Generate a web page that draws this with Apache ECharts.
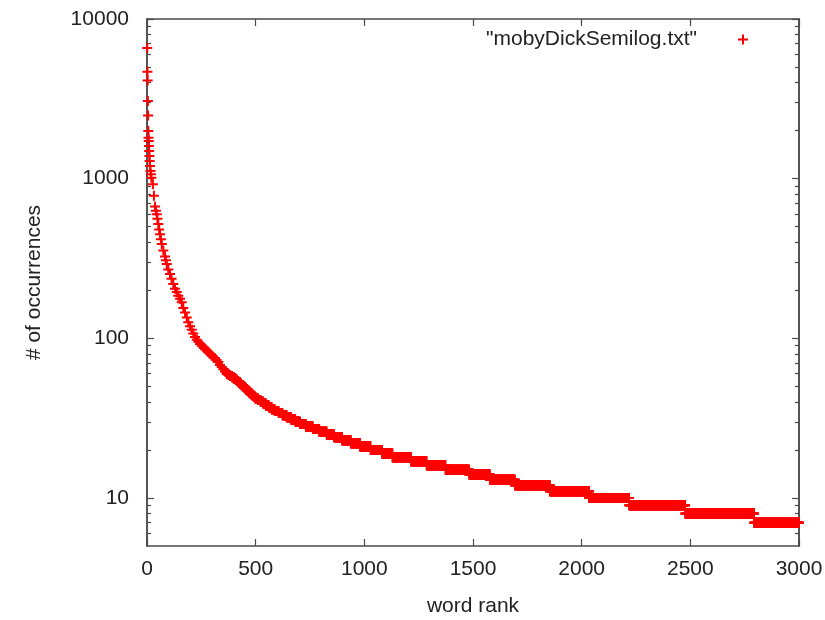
<!DOCTYPE html>
<html>
<head>
<meta charset="utf-8">
<script src="https://cdn.jsdelivr.net/npm/echarts@6/dist/echarts.min.js"></script>
<style>
  html, body { margin: 0; padding: 0; background: #ffffff; }
  #chart { width: 825px; height: 620px; }
</style>
</head>
<body>
<div id="chart"></div>
<script>
// ---- data ----
const seriesName = '"mobyDickSemilog.txt"';
const xAxisTitle = 'word rank';
const yAxisTitle = '# of occurrences';

// highest-ranked words: individual readings (rank, occurrences)
const topRanks  = [1, 2, 3, 4, 5, 6, 7, 8, 9, 10, 11, 12, 14, 16, 18, 20, 27, 32, 37, 41, 45, 48, 52, 56, 60, 64, 68, 75, 83, 87, 91, 98, 106, 113, 121, 129, 137, 144, 152, 160, 167, 175, 183, 190, 198, 206, 213, 221, 229, 236, 244, 252, 260, 267, 275, 282, 290, 298, 305, 313, 320, 328, 336, 344, 351, 359, 366];
const topCounts = [6590, 4665, 4120, 3060, 2490, 1987, 1803, 1721, 1601, 1490, 1386, 1290, 1200, 1117, 1065, 1014, 923, 780, 670, 630, 599, 560, 519, 480, 449, 418, 389, 355, 325, 308, 292, 270, 253, 236, 219, 204, 195, 185, 177, 168, 155, 145, 135, 126, 119, 113, 107, 102, 98, 95, 92, 90, 88, 86, 84, 82, 80, 78, 76, 75, 73, 71, 68, 66, 64, 62, 61];

// lower ranks: plateaus of equal counts (count, first rank of the plateau)
const stepCounts = [60, 59, 58, 57, 56, 55, 54, 53, 52, 51, 50, 49, 48, 47, 46, 45, 44, 43, 42, 41, 40, 39, 38, 37, 36, 35, 34, 33, 32, 31, 30, 29, 28, 27, 26, 25, 24, 23, 22, 21, 20, 19, 18, 17, 16, 15, 14, 13, 12, 11, 10, 9, 8, 7];
const stepStarts = [367, 375, 383, 392, 400, 408, 414, 421, 428, 434, 441, 448, 455, 462, 469, 476, 484, 491, 499, 511, 523, 535, 547, 561, 574, 588, 606, 624, 643, 663, 683, 705, 731, 763, 793, 827, 861, 898, 938, 981, 1029, 1082, 1130, 1215, 1287, 1374, 1483, 1578, 1693, 1854, 2035, 2219, 2477, 2794];
const lastRank = 3000;

// axis ticks
const yMajor = [10, 100, 1000, 10000];
const yMinor = [6, 7, 8, 9, 20, 30, 40, 50, 60, 70, 80, 90, 200, 300, 400, 500, 600, 700, 800, 900, 2000, 3000, 4000, 5000, 6000, 7000, 8000, 9000];
const yMin = 5, yMax = 10000;
const xMin = 0, xMax = 3000, xStep = 500;

// ---- build point list ----
const points = [];
for (let i = 0; i < topRanks.length; i++) points.push([topRanks[i], topCounts[i]]);
for (let i = 0; i < stepCounts.length; i++) {
  const end = (i + 1 < stepStarts.length) ? stepStarts[i + 1] - 1 : lastRank;
  for (let r = stepStarts[i]; r <= end; r++) points.push([r, stepCounts[i]]);
}

const PLUS = 'path://M4,0H6V4H10V6H6V10H4V6H0V4H4Z';
const FONT = 'Liberation Sans';
const FS = 21;
const TXT = '#222';
const LINE = { show: true, lineStyle: { color: '#4a4a4a', width: 1.5 } };

function yAx(pos, ticks, len, labels) {
  return {
    type: 'log', logBase: 10, min: yMin, max: yMax, position: pos,
    axisLine: LINE,
    splitLine: { show: false }, minorTick: { show: false },
    axisTick: { show: true, inside: true, length: len, customValues: ticks,
                lineStyle: { color: '#4a4a4a', width: 1.2 } },
    axisLabel: labels ? { show: true, customValues: yMajor, fontFamily: FONT, fontSize: FS, color: TXT, margin: 18,
                          formatter: v => String(Math.round(v)) } : { show: false },
    name: labels ? yAxisTitle : '',
    nameLocation: 'middle', nameGap: 102, nameRotate: 90,
    nameTextStyle: { fontFamily: FONT, fontSize: FS, color: TXT }
  };
}
function xAx(pos, labels) {
  return {
    type: 'value', min: xMin, max: xMax, interval: xStep, position: pos,
    axisLine: LINE, splitLine: { show: false },
    axisTick: { show: true, inside: true, length: 7, lineStyle: { color: '#4a4a4a', width: 1.2 } },
    axisLabel: labels ? { show: true, fontFamily: FONT, fontSize: FS, color: TXT, margin: 13,
                          formatter: v => String(v) } : { show: false },
    name: labels ? xAxisTitle : '',
    nameLocation: 'middle', nameGap: 50,
    nameTextStyle: { fontFamily: FONT, fontSize: FS, color: TXT }
  };
}

const chart = echarts.init(document.getElementById('chart'), null, { renderer: 'canvas' });
chart.setOption({
  animation: false,
  backgroundColor: '#ffffff',
  grid: { left: 147, right: 26, top: 19, bottom: 74, containLabel: false, outerBoundsMode: 'none' },
  legend: {
    show: true, right: 72, top: 24, orient: 'horizontal', align: 'right',
    itemWidth: 10, itemHeight: 10, icon: PLUS,
    data: [{ name: seriesName, icon: PLUS }],
    textStyle: { fontFamily: FONT, fontSize: FS, color: TXT, padding: [0, 36, 0, 0] }
  },
  xAxis: [xAx('bottom', true), xAx('top', false)],
  yAxis: [
    yAx('left', yMajor, 7, true),
    yAx('left', yMinor, 4, false),
    yAx('right', yMajor, 7, false),
    yAx('right', yMinor, 4, false)
  ],
  series: [{
    name: seriesName, type: 'scatter', xAxisIndex: 0, yAxisIndex: 0,
    data: points, symbol: PLUS, symbolSize: 10,
    itemStyle: { color: '#ff0000', opacity: 1 },
    large: false, progressive: 0, silent: true
  }]
});
</script>
</body>
</html>
